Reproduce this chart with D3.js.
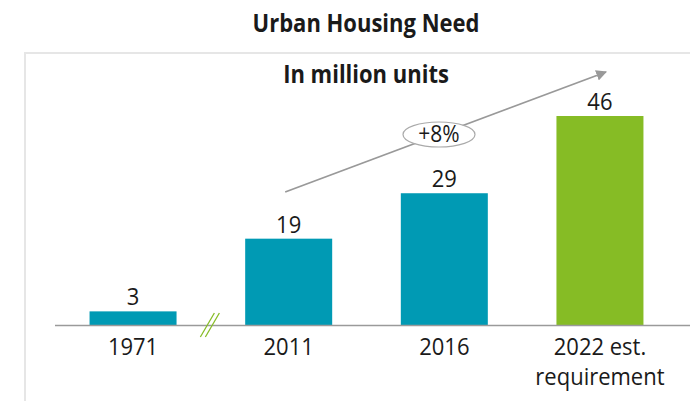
<!DOCTYPE html>
<html><head><meta charset="utf-8">
<script src="https://cdn.jsdelivr.net/npm/d3@7"></script>
<style>body{margin:0;background:#fff}svg{display:block;font-family:"Open Sans",sans-serif}</style>
</head><body><svg id="c" width="690" height="401"></svg>
<script>
const categories = ["1971", "2011", "2016", "2022 est.\nrequirement"];
const values = [3, 19, 29, 46];
const colors = ["#009ab4", "#009ab4", "#009ab4", "#86bc25"];
const growthLabel = "+8%";

const svg = d3.select("#c");
const W = 690, H = 401;
const baseY = 325;
const SY = 1.1;
const x = d3.scaleBand().domain(categories).range([55, 678]).paddingInner(0.441).paddingOuter(0.222);
const y = d3.scaleLinear().domain([0, 46]).range([baseY, 116]);

function txt(px, py, s, size, weight) {
  const g = svg.append("g").attr("transform", `translate(${px},${py}) scale(1,${SY})`);
  return g.append("text").attr("x", 0).attr("y", 0).attr("text-anchor", "middle")
    .attr("font-size", size).attr("font-weight", weight || "normal").attr("fill", "#1a1a1a").text(s);
}

// frame
svg.append("path").attr("d", `M25,${H} V53 H${W}`).attr("fill", "none").attr("stroke", "#e6e6e6").attr("stroke-width", 2);

txt(366, 32, "Urban Housing Need", 22, "bold");
txt(366, 83, "In million units", 22, "bold");

// bars
svg.selectAll("rect.bar").data(values).join("rect").attr("class", "bar")
  .attr("x", (d, i) => x(categories[i])).attr("width", x.bandwidth())
  .attr("y", d => y(d)).attr("height", d => baseY - y(d))
  .attr("fill", (d, i) => colors[i]);

// baseline
svg.append("line").attr("x1", 55).attr("x2", W).attr("y1", baseY + 0.5).attr("y2", baseY + 0.5)
  .attr("stroke", "#9a9a9a").attr("stroke-width", 1.5);

// value labels
values.forEach((v, i) => txt(x(categories[i]) + x.bandwidth() / 2, y(v) - 6, v, 22));

// category labels (one text element per category, tspans for wrapped lines)
categories.forEach(c => {
  const t = txt(x(c) + x.bandwidth() / 2, 355, "", 22);
  c.split("\n").forEach((s, k) => t.append("tspan").attr("x", 0).attr("dy", k ? 30 / SY : 0).text(s));
});

// axis break
const bx = (x(categories[0]) + x.bandwidth() + x(categories[1])) / 2;
[-2.5, 2.5].forEach(o => svg.append("line")
  .attr("x1", bx - 8 + o).attr("y1", 337).attr("x2", bx + 6 + o).attr("y2", 313)
  .attr("stroke", "#86bc25").attr("stroke-width", 1.3));

// growth arrow
const defs = svg.append("defs");
defs.append("marker").attr("id", "ah").attr("viewBox", "0 0 10 10").attr("refX", 9).attr("refY", 5)
  .attr("markerWidth", 6).attr("markerHeight", 6).attr("markerUnits", "strokeWidth").attr("orient", "auto")
  .append("path").attr("d", "M0,0 L10,5 L0,10 Z").attr("fill", "#999");
const ax1 = x(categories[1]) + 40, ay1 = 192, ax2 = 606, ay2 = 72;
svg.append("line").attr("x1", ax1).attr("y1", ay1).attr("x2", ax2).attr("y2", ay2)
  .attr("stroke", "#999").attr("stroke-width", 1.8).attr("marker-end", "url(#ah)");
const ex = 439, ey = 134.5;
svg.append("ellipse").attr("cx", ex).attr("cy", ey).attr("rx", 36).attr("ry", 12.5)
  .attr("fill", "#fff").attr("stroke", "#aaa").attr("stroke-width", 1.2);
txt(ex, ey + 7.5, growthLabel, 21);
</script></body></html>
